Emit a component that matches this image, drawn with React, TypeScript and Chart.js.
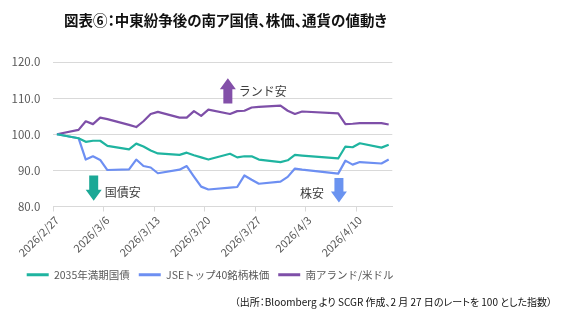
import React, { useEffect, useRef } from 'react';
import { Chart, registerables } from 'chart.js';

Chart.register(...registerables);

// ---- data (index = 100 on 2026/2/27) ----
const tradeDates = [
  '2026/2/27',
  '2026/3/2', '2026/3/3', '2026/3/4', '2026/3/5', '2026/3/6',
  '2026/3/9', '2026/3/10', '2026/3/11', '2026/3/12', '2026/3/13',
  '2026/3/16', '2026/3/17', '2026/3/18', '2026/3/19', '2026/3/20',
  '2026/3/23', '2026/3/24', '2026/3/25', '2026/3/26', '2026/3/27',
  '2026/3/30', '2026/3/31', '2026/4/1', '2026/4/2',
  '2026/4/7', '2026/4/8', '2026/4/9', '2026/4/10',
  '2026/4/13', '2026/4/14',
];
const bond2035 = [
  100,
  98.9, 97.9, 98.2, 98.2, 96.8,
  95.8, 97.4, 96.6, 95.5, 94.7,
  94.3, 94.9, 94.2, 93.6, 93.0,
  94.6, 93.6, 93.9, 93.9, 93.0,
  92.3, 92.8, 94.3, 94.1,
  93.3, 96.6, 96.4, 97.5,
  96.3, 97.1,
];
const jseTop40 = [
  100,
  98.9, 93.0, 93.9, 92.9, 90.1,
  90.3, 93.0, 91.2, 90.8, 89.2,
  90.2, 91.2, 88.3, 85.5, 84.7,
  85.2, 85.4, 88.6, 87.4, 86.3,
  86.9, 88.2, 90.5, 90.2,
  89.1, 92.7, 91.6, 92.3,
  91.9, 93.0,
];
const zarUsd = [
  100,
  101.2, 103.6, 102.8, 104.6, 104.2,
  102.6, 102.0, 103.6, 105.6, 106.2,
  104.6, 104.6, 106.4, 105.1, 106.8,
  105.6, 106.4, 106.5, 107.4, 107.6,
  107.9, 106.5, 105.6, 106.3,
  105.8, 102.8, 102.9, 103.1,
  103.1, 102.7,
];
const seriesNames = ['2035年満期国債', 'JSEトップ40銘柄株価', '南アランド/米ドル'];
const seriesColors = ['#1fb4a0', '#6d8ff2', '#7e4fa8'];
const yTickValues = [80, 90, 100, 110, 120];
const titleText = '図表⑥：中東紛争後の南ア国債、株価、通貨の値動き';
const sourceText = '（出所：Bloomberg より SCGR 作成、2 月 27 日のレートを 100 とした指数）';

// annotation arrows (positions in data units: x = calendar-day index, y = index value)
const arrowNotes = [
  { label: 'ランド安', xAt: 23.7, from: 108.5, to: 115.5, textY: 111.8, color: '#8350a9', side: 'right' },
  { label: '国債安', xAt: 5.1, from: 88.6, to: 81.6, textY: 83.9, color: '#1ba896', side: 'right' },
  { label: '株安', xAt: 39.1, from: 87.9, to: 81.1, textY: 83.7, color: '#6a93f0', side: 'left' },
];

const FONT = '"Noto Sans CJK JP", "Noto Sans", sans-serif';

function parseDay(s: string) {
  const [y, m, d] = s.split('/').map(Number);
  return Date.UTC(y, m - 1, d);
}
const DAY = 86400000;
const startMs = parseDay(tradeDates[0]);
const endMs = parseDay(tradeDates[tradeDates.length - 1]);
const calendarLabels: string[] = [];
for (let t = startMs; t <= endMs; t += DAY) {
  const dt = new Date(t);
  calendarLabels.push(`${dt.getUTCFullYear()}/${dt.getUTCMonth() + 1}/${dt.getUTCDate()}`);
}
function toCalendar(values: number[]) {
  const out: (number | null)[] = calendarLabels.map(() => null);
  tradeDates.forEach((d, i) => {
    const idx = Math.round((parseDay(d) - startMs) / DAY);
    out[idx] = values[i];
  });
  return out;
}

const arrowPlugin = {
  id: 'arrowNotes',
  afterDatasetsDraw(chart: any) {
    const { ctx, scales } = chart;
    const x = scales.x, y = scales.y;
    arrowNotes.forEach((n) => {
      const cx = x.getPixelForValue(n.xAt);
      const y0 = y.getPixelForValue(n.from);
      const y1 = y.getPixelForValue(n.to);
      const dir = y1 < y0 ? -1 : 1;
      const head = 11, hw = 8, sw = 4.5;
      ctx.save();
      ctx.fillStyle = n.color;
      ctx.beginPath();
      ctx.moveTo(cx - sw, y0);
      ctx.lineTo(cx - sw, y1 - dir * head);
      ctx.lineTo(cx - hw, y1 - dir * head);
      ctx.lineTo(cx, y1);
      ctx.lineTo(cx + hw, y1 - dir * head);
      ctx.lineTo(cx + sw, y1 - dir * head);
      ctx.lineTo(cx + sw, y0);
      ctx.closePath();
      ctx.fill();
      ctx.fillStyle = '#404040';
      ctx.font = `12px ${FONT}`;
      ctx.textBaseline = 'middle';
      const ty = y.getPixelForValue(n.textY);
      if (n.side === 'right') {
        ctx.textAlign = 'left';
        ctx.fillText(n.label, cx + hw + 3, ty);
      } else {
        ctx.textAlign = 'right';
        ctx.fillText(n.label, cx - hw - 7, ty);
      }
      ctx.restore();
    });
  },
};

// shift the legend box so that it is centred under the whole chart object
const legendShift = {
  id: 'legendShift',
  afterLayout(chart: any) {
    const lg = chart.legend;
    if (lg) {
      lg.left += 14;
      lg.right += 14;
    }
  },
};

export default function App() {
  const canvasRef = useRef<HTMLCanvasElement | null>(null);

  useEffect(() => {
    if (!canvasRef.current) return;
    const seriesValues = [bond2035, jseTop40, zarUsd];
    const chart = new Chart(canvasRef.current, {
      type: 'line',
      data: {
        labels: calendarLabels,
        datasets: seriesNames.map((name, i) => ({
          label: name,
          data: toCalendar(seriesValues[i]),
          borderColor: seriesColors[i],
          backgroundColor: seriesColors[i],
          borderWidth: 2.2,
          pointRadius: 0,
          pointHoverRadius: 0,
          tension: 0,
          spanGaps: true,
          borderJoinStyle: 'round' as const,
        })),
      },
      options: {
        responsive: false,
        animation: false,
        events: [],
        layout: { padding: { top: 62, left: 0, right: 179.7, bottom: 39 } },
        scales: {
          x: {
            type: 'category',
            offset: true,
            afterFit: (s: any) => {
              s.height = 54;
              s.paddingLeft = 0;
              s.paddingRight = 0;
            },
            grid: {
              offset: true,
              drawOnChartArea: false,
              drawTicks: true,
              tickLength: 5,
              tickColor: (c: any) => (typeof c.index === 'number' && c.index % 7 === 0 ? '#d9d9d9' : 'rgba(0,0,0,0)'),
            },
            border: { display: true, color: '#d9d9d9', width: 1 },
            ticks: {
              autoSkip: false,
              minRotation: 45,
              maxRotation: 45,
              padding: 2,
              color: '#595959',
              font: { family: FONT, size: 11 },
              callback: (_v: any, i: number) => (i % 7 === 0 ? calendarLabels[i] : ''),
            },
          },
          y: {
            min: 80,
            max: 120,
            afterFit: (s: any) => {
              s.width = 53.3;
            },
            afterBuildTicks: (s: any) => {
              s.ticks = yTickValues.map((v) => ({ value: v }));
            },
            grid: { color: '#d9d9d9', lineWidth: 1, drawTicks: false },
            border: { display: false },
            ticks: {
              padding: 13,
              color: '#595959',
              font: { family: FONT, size: 11.5 },
              callback: (v: any) => Number(v).toFixed(1),
            },
          },
        },
        plugins: {
          title: { display: false },
          tooltip: { enabled: false },
          legend: {
            display: true,
            position: 'bottom',
            labels: {
              boxWidth: 22,
              boxHeight: 3,
              padding: 9,
              color: '#595959',
              font: { family: FONT, size: 10.5 },
              generateLabels: (ch: any) =>
                Chart.defaults.plugins.legend.labels.generateLabels(ch).map((l: any) => ({ ...l, lineWidth: 0 })),
            },
          },
        },
      },
      plugins: [arrowPlugin, legendShift],
    });
    return () => chart.destroy();
  }, []);

  return (
    <div
      style={{
        position: 'fixed',
        left: 0,
        top: 0,
        width: 572,
        height: 329,
        background: '#ffffff',
        overflow: 'hidden',
        fontFamily: FONT,
      }}
    >
      <canvas ref={canvasRef} width={572} height={329} style={{ position: 'absolute', left: 0, top: 0 }} />
      <div
        style={{
          position: 'absolute',
          left: 0,
          width: 451,
          top: 10,
          textAlign: 'center',
          fontSize: 14.5,
          fontWeight: 700,
          lineHeight: '20px',
          color: '#111111',
          fontFeatureSettings: '"palt"',
          whiteSpace: 'nowrap',
        }}
      >
        {titleText}
      </div>
      <div
        style={{
          position: 'absolute',
          right: 20,
          top: 294,
          fontSize: 10,
          lineHeight: '16px',
          color: '#111111',
          fontFeatureSettings: '"palt"',
          whiteSpace: 'nowrap',
        }}
      >
        {sourceText}
      </div>
    </div>
  );
}
